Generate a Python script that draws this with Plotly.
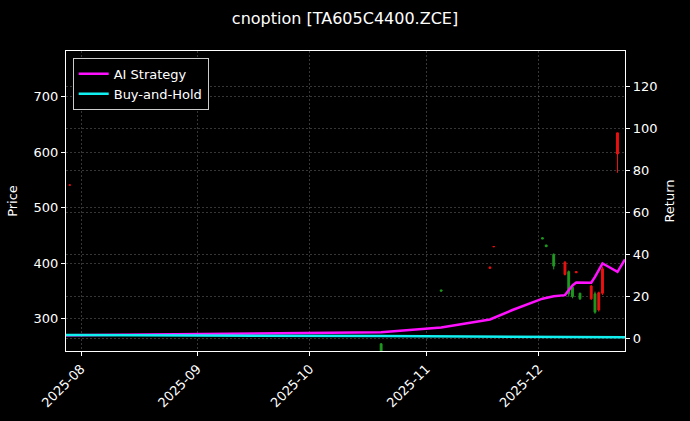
import plotly.graph_objects as go

# rows of the backtest (None = no bar drawn that day)
dates = ["2025-07-28", "2025-07-29", "2025-10-20", "2025-11-05", "2025-11-18",
         "2025-11-19", "2025-11-24", "2025-12-02", "2025-12-03", "2025-12-05",
         "2025-12-08", "2025-12-09", "2025-12-10", "2025-12-11", "2025-12-12",
         "2025-12-15", "2025-12-16", "2025-12-17", "2025-12-18", "2025-12-19",
         "2025-12-22", "2025-12-23", "2025-12-24"]
open_ = [None, 541, 255, 352, 391, 430, None, 446, 433, 416, 380, 385, 357, 383, 346,
         336, 345, 316, 346, None, 597, None, None]
high = [None, 541, 256, 352, 394, 430, None, 447, 433, 418, 404, 387, 359, 385, 347,
        361, 349, 349, 394, None, 635, None, None]
low = [None, 541, 235, 349, 390, 430, None, 444, 430, 389, 378, 340, 337, 383, 334,
       334, 309, 313, 343, None, 563, None, None]
close = [None, 541, 238, 350, 393, 430, None, 444, 430, 395, 402, 345, 340, 385, 336,
         359, 312, 347, 390, None, 635, None, None]
ai_return = [1.5, 1.5, 2.9, 5.2, 9.0, 9.8, 13.5, 18.9, 19.3, 20.1, 20.6, 23.0, 25.2,
             26.6, 26.5, 26.5, 29.3, 32.5, 35.7, 34.7, 31.7, 34.6, 37.6]
bh_return = [1.6, 1.6, 1.1, 1.0, 0.9, 0.9, 0.8, 0.8, 0.8, 0.8, 0.7, 0.7, 0.7, 0.7, 0.7,
             0.7, 0.7, 0.6, 0.6, 0.6, 0.6, 0.6, 0.6]

font = "DejaVu Sans"
grid = "rgba(120,120,120,0.45)"

fig = go.Figure()
fig.add_trace(go.Candlestick(
    x=dates, open=open_, high=high, low=low, close=close,
    increasing=dict(line=dict(color="#ee1010", width=1), fillcolor="#ee1010"),
    decreasing=dict(line=dict(color="#1e9a1e", width=1), fillcolor="#1e9a1e"),
    showlegend=False, yaxis="y"))
fig.add_trace(go.Scatter(x=dates, y=ai_return, mode="lines", name="AI Strategy",
                         line=dict(color="#ff10ff", width=2.5), yaxis="y2"))
fig.add_trace(go.Scatter(x=dates, y=bh_return, mode="lines", name="Buy-and-Hold",
                         line=dict(color="#10f0f0", width=2.5), yaxis="y2"))

axis_common = dict(showline=True, linecolor="white", linewidth=1.2, automargin=False,
                   ticks="outside", tickcolor="white", ticklen=4,
                   tickfont=dict(color="white", size=13, family=font),
                   showgrid=True, gridcolor=grid, griddash="2px,2px", gridwidth=0.7,
                   zeroline=False)

fig.update_layout(
    width=690, height=421,
    paper_bgcolor="black", plot_bgcolor="black",
    margin=dict(l=66, r=65, t=51, b=70, autoexpand=False),
    font=dict(family=font, color="white", size=13),
    title=dict(text="cnoption [TA605C4400.ZCE]", x=0.5, xanchor="center",
               y=0.957, yanchor="middle", automargin=False,
               font=dict(size=16, color="white", family=font)),
    xaxis=dict(axis_common, type="date", range=["2025-07-28", "2025-12-24"],
               tick0="2025-08-01", dtick="M1", tickformat="%Y-%m", tickangle=-45,
               rangeslider=dict(visible=False), mirror=True),
    yaxis=dict(axis_common, range=[242, 782.5], tickvals=[300, 400, 500, 600, 700],
               title=dict(text="Price", standoff=12, font=dict(size=13, color="white")),
               mirror=True),
    yaxis2=dict(axis_common, overlaying="y", side="right", range=[-6.0, 136.8],
                tickvals=[0, 20, 40, 60, 80, 100, 120],
                title=dict(text="Return", standoff=8, font=dict(size=13, color="white"))),
    legend=dict(x=0.012, y=0.977, xanchor="left", yanchor="top", bgcolor="black",
                bordercolor="#cccccc", borderwidth=1, tracegroupgap=0,
                font=dict(size=13, color="white", family=font)),
)

fig.write_html("out.html", config={"displayModeBar": False},
               post_script="document.body.style.margin='0px';")
